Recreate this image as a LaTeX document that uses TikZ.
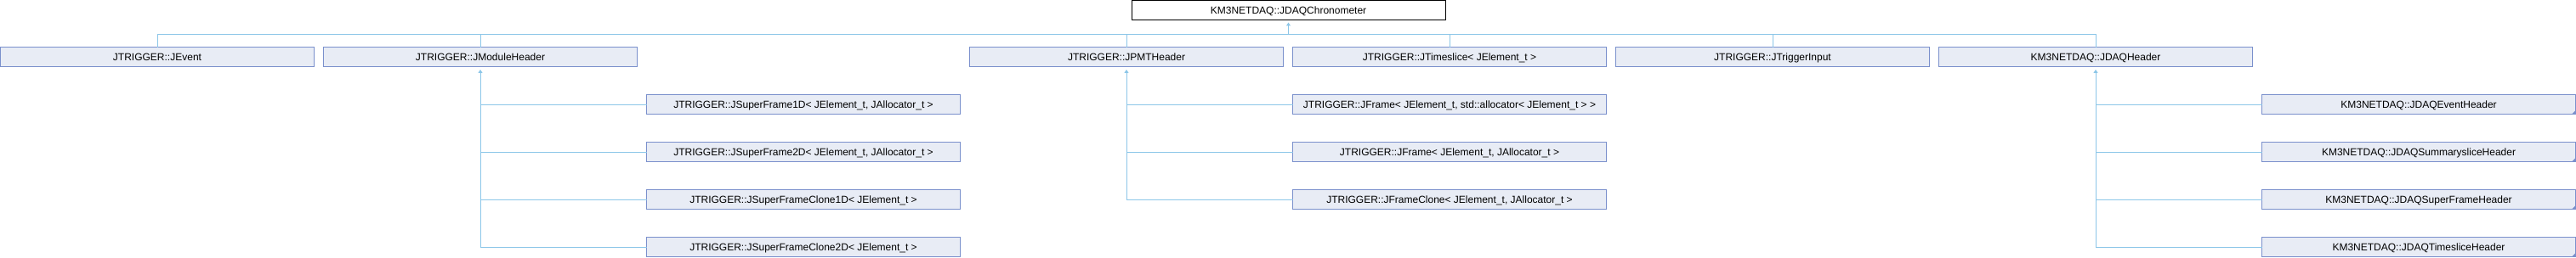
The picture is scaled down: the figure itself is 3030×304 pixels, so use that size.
\documentclass[tikz,border=0pt]{standalone}
\usepackage{fontspec}
\setmainfont{Liberation Sans}
\usetikzlibrary{arrows.meta}
\definecolor{boxfill}{RGB}{232,236,245}
\definecolor{boxline}{RGB}{122,144,204}
\definecolor{conncol}{RGB}{140,198,232}
\tikzset{
  cls/.style={draw=boxline, fill=boxfill, line width=1pt, anchor=north west,
    minimum width=369pt, minimum height=23pt, inner sep=0pt, outer sep=0pt,
    font=\fontsize{12pt}{14pt}\selectfont, text height=8.6pt, text depth=0pt},
  topcls/.style={cls, draw=black, fill=white},
  conn/.style={draw=conncol, line width=1pt},
  uparrow/.style={conn, -{Triangle[width=5pt,length=4pt]}, shorten >=3pt},
  startarrow/.style={conn, {Triangle[width=5pt,length=4pt]}-, shorten <=3pt},
  fold/.style={fill=boxline}
}
\begin{document}
\begin{tikzpicture}[x=1pt,y=-1pt]
\useasboundingbox (0,0) rectangle (3030,304);
\node[topcls] (top) at (1331,0.5) {KM3NETDAQ::JDAQChronometer};
% row 1
\node[cls] (ev)  at (0.5,56)    {JTRIGGER::JEvent};
\node[cls] (mh)  at (380.5,56)  {JTRIGGER::JModuleHeader};
\node[cls] (pmt) at (1140.5,56) {JTRIGGER::JPMTHeader};
\node[cls] (ts)  at (1520.5,56) {JTRIGGER::JTimeslice< JElement\_t >};
\node[cls] (ti)  at (1900.5,56) {JTRIGGER::JTriggerInput};
\node[cls] (dh)  at (2280.5,56) {KM3NETDAQ::JDAQHeader};
% JModuleHeader children
\node[cls] (m1) at (760.5,112) {JTRIGGER::JSuperFrame1D< JElement\_t, JAllocator\_t >};
\node[cls] (m2) at (760.5,168) {JTRIGGER::JSuperFrame2D< JElement\_t, JAllocator\_t >};
\node[cls] (m3) at (760.5,224) {JTRIGGER::JSuperFrameClone1D< JElement\_t >};
\node[cls] (m4) at (760.5,280) {JTRIGGER::JSuperFrameClone2D< JElement\_t >};
% JPMTHeader children
\node[cls] (p1) at (1520.5,112) {JTRIGGER::JFrame< JElement\_t, std::allocator< JElement\_t > >};
\node[cls] (p2) at (1520.5,168) {JTRIGGER::JFrame< JElement\_t, JAllocator\_t >};
\node[cls] (p3) at (1520.5,224) {JTRIGGER::JFrameClone< JElement\_t, JAllocator\_t >};
% JDAQHeader children
\node[cls] (d1) at (2660.5,112) {KM3NETDAQ::JDAQEventHeader};
\node[cls] (d2) at (2660.5,168) {KM3NETDAQ::JDAQSummarysliceHeader};
\node[cls] (d3) at (2660.5,224) {KM3NETDAQ::JDAQSuperFrameHeader};
\node[cls] (d4) at (2660.5,280) {KM3NETDAQ::JDAQTimesliceHeader};
\foreach \n in {d1,d2,d3,d4}{
  \fill[fold] (\n.south east) -- ++(0,-5) -- ++(-5,5) -- cycle;
}
% bus
\coordinate (bus) at (0,40.5);
\draw[conn] (ev.north) -- (ev.north |- bus) -- (dh.north |- bus) -- (dh.north);
\foreach \n in {mh,pmt,ts,ti}{
  \draw[conn] (\n.north |- bus) -- (\n.north);
}
\draw[uparrow] (top.south |- bus) -- (top.south);
% children connectors
\draw[startarrow] (mh.south) -- (mh.south |- m4.west) -- (m4.west);
\foreach \n in {m1,m2,m3}{ \draw[conn] (mh.south |- \n.west) -- (\n.west); }
\draw[startarrow] (pmt.south) -- (pmt.south |- p3.west) -- (p3.west);
\foreach \n in {p1,p2}{ \draw[conn] (pmt.south |- \n.west) -- (\n.west); }
\draw[startarrow] (dh.south) -- (dh.south |- d4.west) -- (d4.west);
\foreach \n in {d1,d2,d3}{ \draw[conn] (dh.south |- \n.west) -- (\n.west); }
\end{tikzpicture}
\end{document}
